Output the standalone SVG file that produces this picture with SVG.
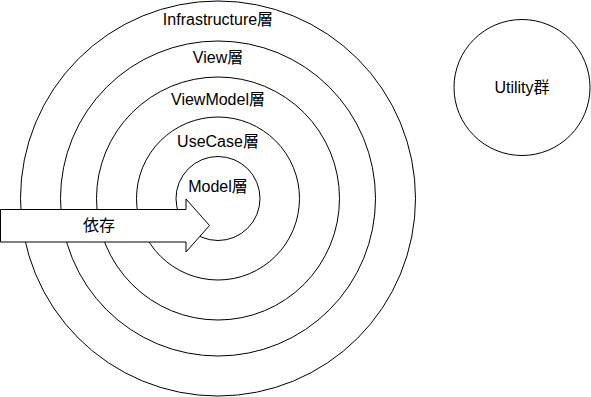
<svg xmlns="http://www.w3.org/2000/svg" width="591" height="397" viewBox="0 0 591 397">
  <style>
    .ring { fill: #ffffff; stroke: #000000; stroke-width: 1; }
    .label { font-family: "Liberation Sans", "Noto Sans CJK JP", sans-serif; font-size: 16px; fill: #000000; text-anchor: middle; }
  </style>
  <rect width="591" height="397" fill="#ffffff"/>

  <!-- concentric layers, outermost first -->
  <g id="infrastructure">
    <circle class="ring" cx="218" cy="198.5" r="197.5"/>
    <text class="label" x="218" y="25">Infrastructure層</text>
  </g>
  <g id="view">
    <circle class="ring" cx="218" cy="198.5" r="157.5"/>
    <text class="label" x="218" y="63">View層</text>
  </g>
  <g id="viewmodel">
    <circle class="ring" cx="218" cy="198.5" r="121.5"/>
    <text class="label" x="218" y="105">ViewModel層</text>
  </g>
  <g id="usecase">
    <circle class="ring" cx="218" cy="198.5" r="81.5"/>
    <text class="label" x="218" y="147">UseCase層</text>
  </g>
  <g id="model">
    <circle class="ring" cx="218" cy="198.5" r="42"/>
    <text class="label" x="218" y="192">Model層</text>
  </g>

  <g id="utility">
    <circle class="ring" cx="522" cy="87.5" r="68"/>
    <text class="label" x="522" y="93">Utility群</text>
  </g>

  <!-- dependency direction arrow -->
  <g id="connectors">
    <g id="dependency">
      <polygon class="ring" points="0.5,209.5 186,209.5 186,199 209.5,225.5 186,252 186,242 0.5,242"/>
      <text class="label" x="99" y="231">依存</text>
    </g>
  </g>
</svg>
